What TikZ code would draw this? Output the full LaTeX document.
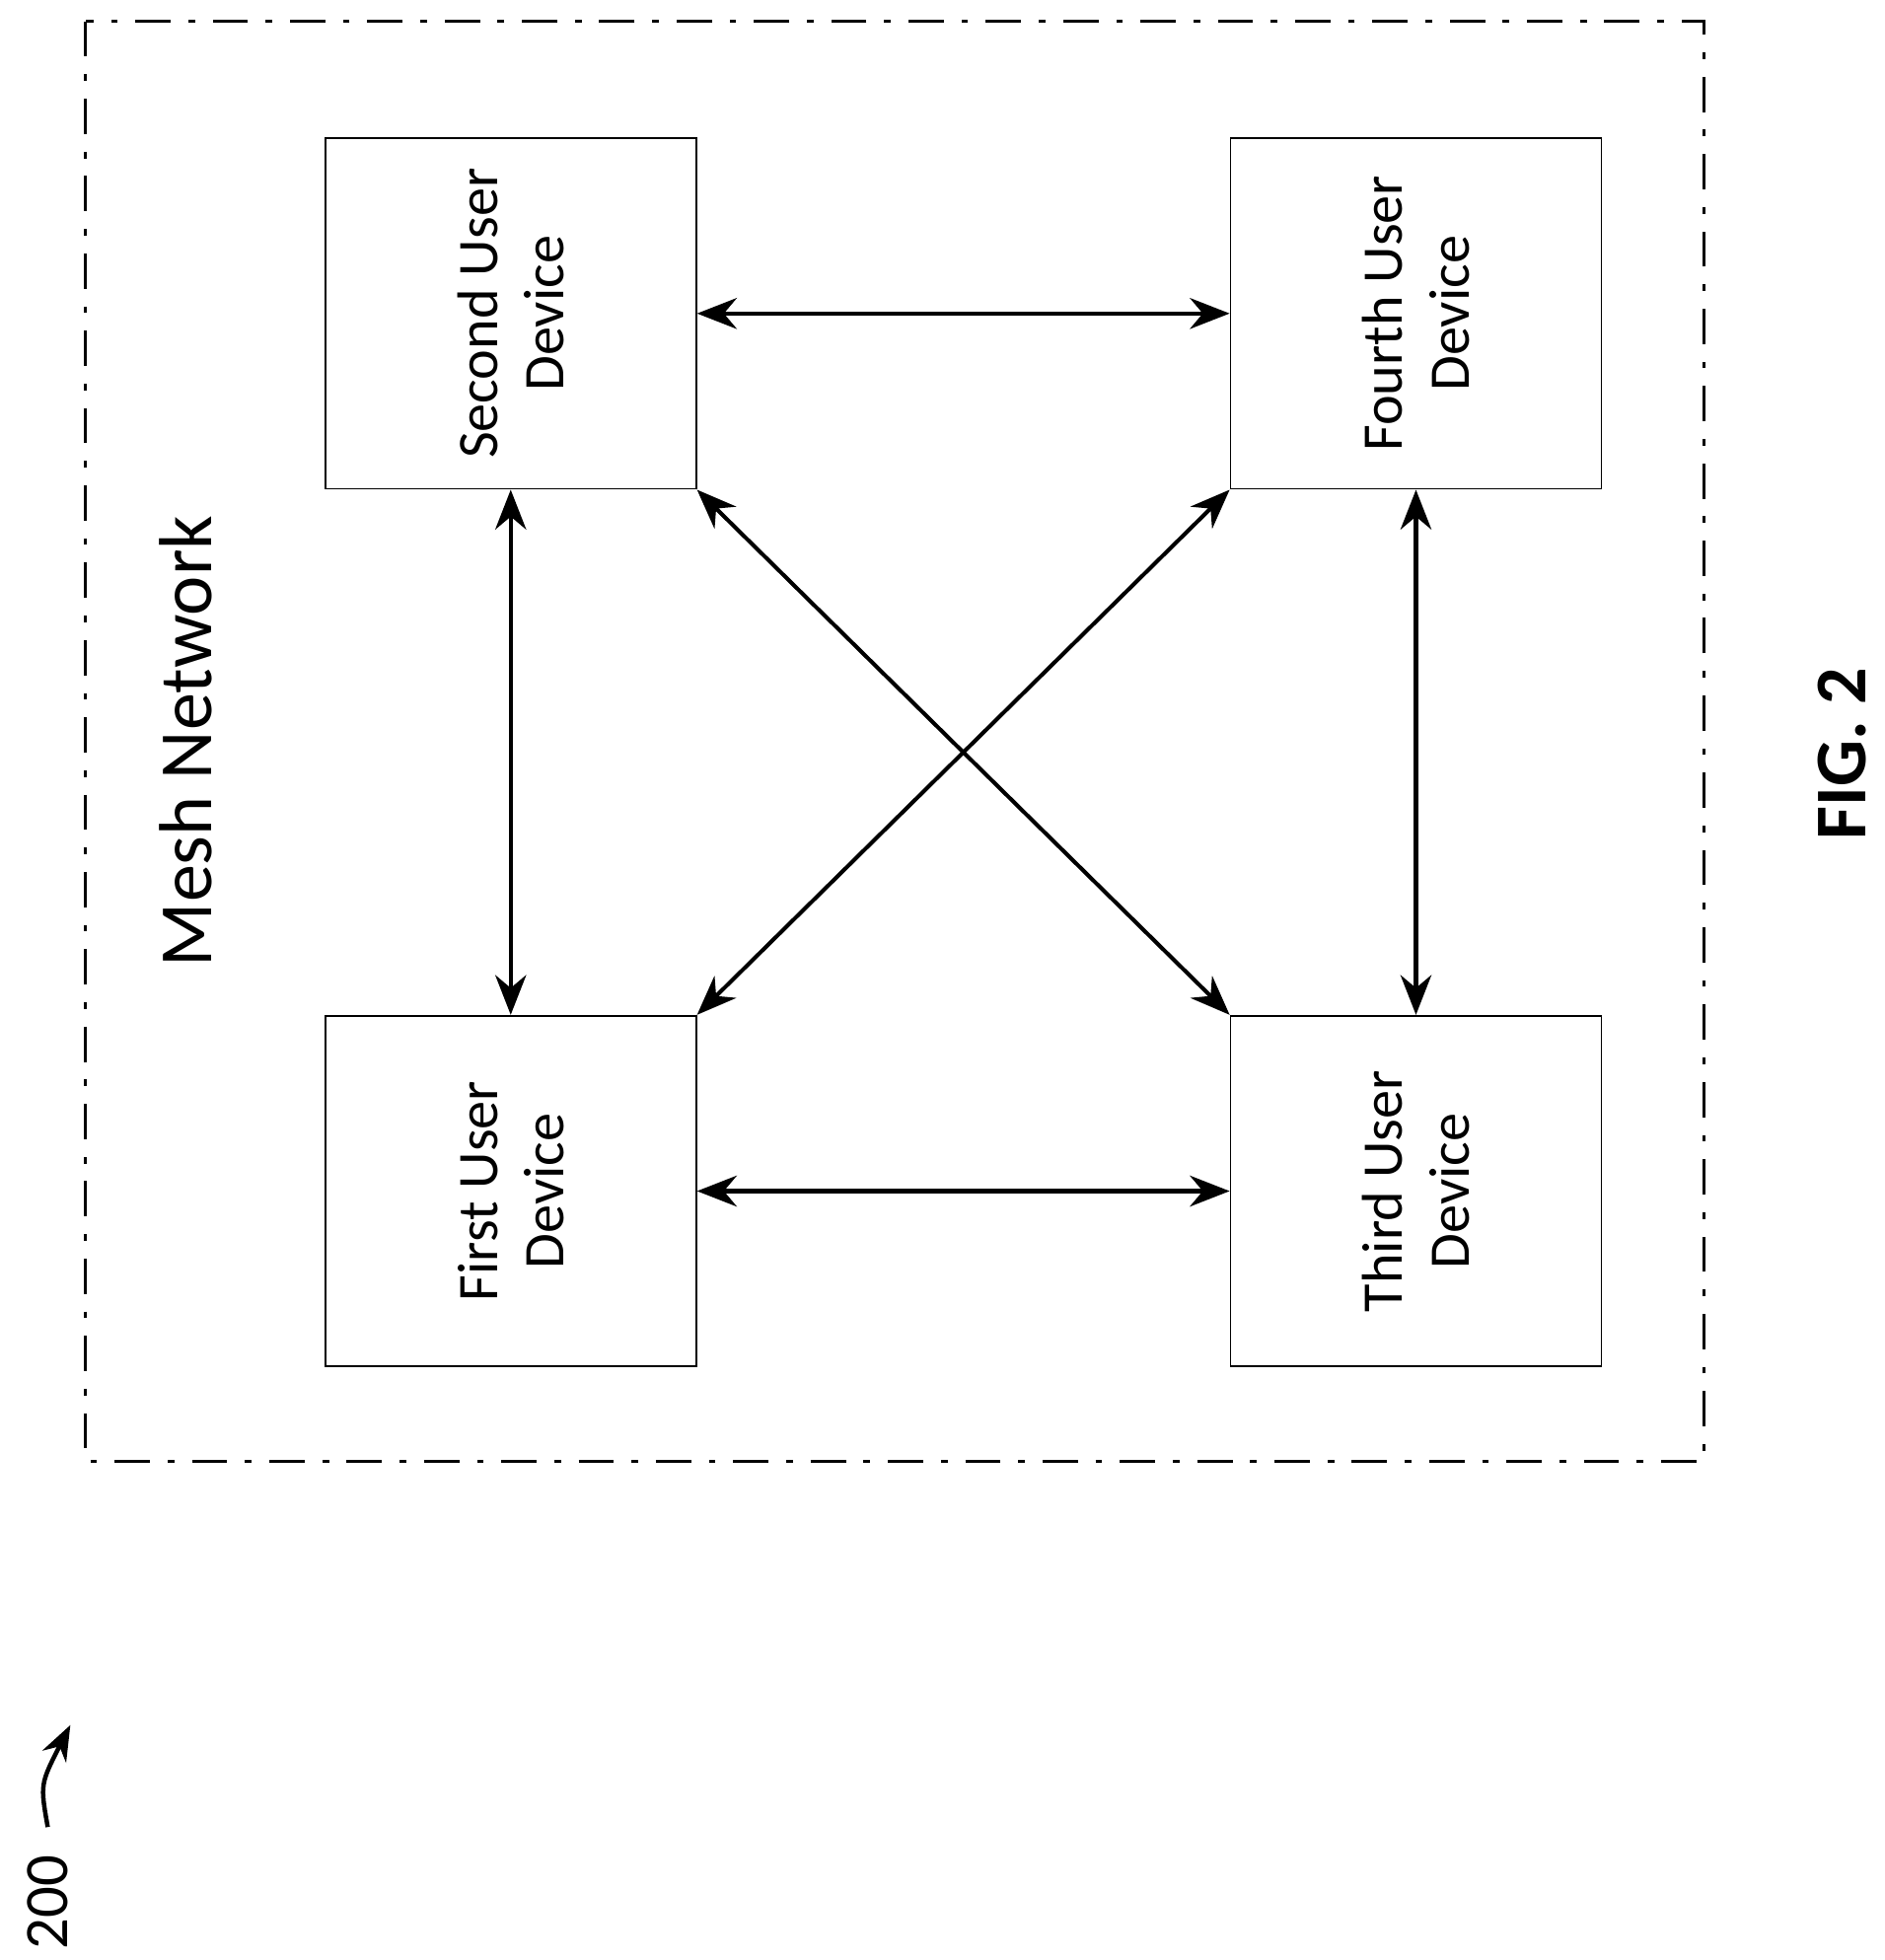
\documentclass[tikz,border=0pt]{standalone}
\usepackage{fontspec}
\setmainfont{Carlito}
\usetikzlibrary{arrows.meta}
\begin{document}
\begin{tikzpicture}[x=0.01cm,y=-0.01cm,
    dev/.style={draw,line width=0.4pt,minimum width=2.95cm,minimum height=2.79cm,inner sep=0pt},
    lbl/.style={rotate=90,align=center,font=\fontsize{13}{15}\selectfont},
    link/.style={{Stealth[length=9pt,width=7pt]}-{Stealth[length=9pt,width=7pt]},line width=0.9pt}]
         \useasboundingbox (0,0) rectangle (1500,1560);
         \draw [line width=0.7pt,dash pattern=on 8pt off 4pt on 1.5pt off 4pt] (68,17) rectangle (1356,1163);
         \node (mesh) at (148,590) [rotate=90,font=\fontsize{17}{20}\selectfont] {Mesh Network};
         \node [dev] (second) at (406.5,249.5) {}; 
         \node [dev] (fourth) at (1127,249.5) {}; 
         \node [dev] (first) at (406.5,948) {}; 
         \node [dev] (third) at (1127,948) {}; 
         \node [lbl] at (second) {Second User\\Device}; 
         \node [lbl] at (fourth) {Fourth User\\Device}; 
         \node [lbl] at (first) {First User\\Device}; 
         \node [lbl] at (third) {Third User\\Device}; 
         \draw [link] (second) -- (fourth); 
         \draw [link] (first) -- (third); 
         \draw [link] (second) -- (first); 
         \draw [link] (fourth) -- (third); 
         \draw [link] (second.south east) -- (third.north west); 
         \draw [link] (fourth.south west) -- (first.north east); 
         \node (fig) at (1466,600) [rotate=90,font=\fontsize{16.5}{20}\selectfont\bfseries] {FIG. 2}; 
         \node (ref) at (38,1514) [rotate=90,font=\fontsize{14}{17}\selectfont] {200}; 
         \coordinate (tip) at (56,1373); 
         \draw [-{Stealth[length=8pt,width=6pt]},line width=1pt] (ref.east) ++(0,-10) .. controls (32,1420) .. (tip); 
\end{tikzpicture}
\end{document}
